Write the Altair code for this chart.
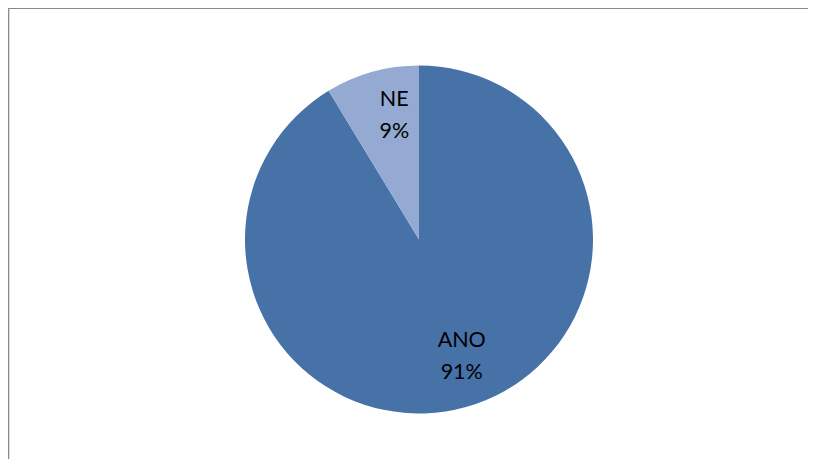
import altair as alt
import pandas as pd

categories = ["ANO", "NE"]
values = [91.3, 8.7]
colors = ["#4672A8", "#94AAD2"]

df = pd.DataFrame({"cat": categories, "value": values})

PAD = 3
W, H = 797, 448
CX, CY = 408, 228.5

base = alt.Chart(df).transform_joinaggregate(total="sum(value)").transform_calculate(
    label="datum.cat + '\\n' + format(datum.value / datum.total, '.0%')"
)

pie = base.mark_arc(radius=174, strokeWidth=0).encode(
    theta=alt.Theta("value:Q", stack=True),
    color=alt.Color("cat:N", scale=alt.Scale(domain=categories, range=colors), legend=None),
    order=alt.Order("cat:N"),
    x=alt.value(CX),
    y=alt.value(CY),
)

text = base.mark_text(
    radius=125, font="Lato", fontSize=21.5, color="#000000", lineBreak="\n",
    lineHeight=32, align="center", baseline="middle", dx=9, dy=-19,
).encode(
    theta=alt.Theta("value:Q", stack=True),
    text="label:N",
    order=alt.Order("cat:N"),
    x=alt.value(CX),
    y=alt.value(CY),
)

border_df = pd.DataFrame({"k": [0]})
frame = alt.Chart(border_df).mark_rect(
    fill="transparent", stroke="#8a8a8a", strokeWidth=1.6
).encode(
    x=alt.value(-2.5), x2=alt.value(W + 40), y=alt.value(-2.7), y2=alt.value(H + 40)
)

chart = alt.layer(pie, text, frame).properties(
    width=W, height=H,
    padding={"left": PAD, "top": PAD, "right": 0, "bottom": 0},
    autosize=alt.AutoSizeParams(type="none"),
    background="white",
).configure_view(stroke="transparent", strokeWidth=0, strokeOpacity=0)

chart.save("out.html", embed_options={"renderer": "svg", "actions": False})
